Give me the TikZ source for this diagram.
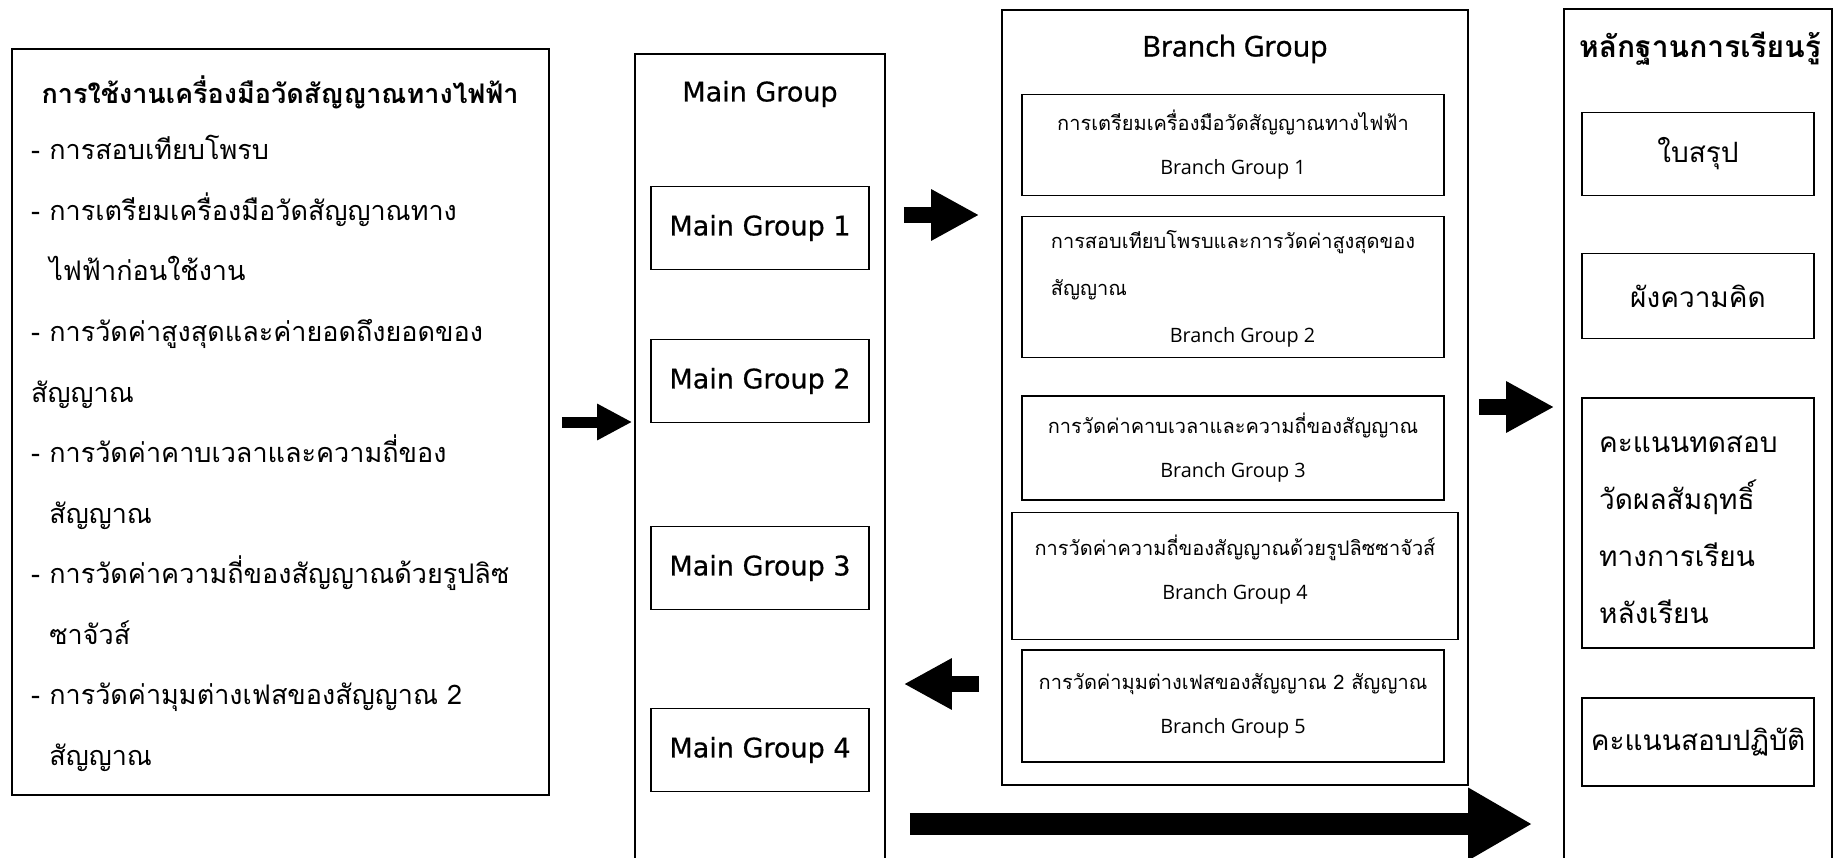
\documentclass[tikz,border=0pt]{standalone}
\usepackage{fontspec}
\usetikzlibrary{arrows.meta,positioning}
\newfontfamily\thaifont[Script=Thai]{Loma}
\newfontfamily\mgfont[FakeBold=0.6]{DejaVu Sans}
\newfontfamily\bgfont{Open Sans}
\newfontfamily\bgbold[FakeBold=1.2]{Open Sans}

\tikzset{
  box/.style={draw, line width=1.6pt, inner sep=0pt},
  mgbox/.style={box, minimum width=218pt, minimum height=83pt,
    font=\mgfont\fontsize{27}{30}\selectfont},
  bgbox/.style={box, align=center, minimum width=422pt,
    font=\thaifont\fontsize{20}{44}\selectfont},
  evbox/.style={box, minimum width=232pt, font=\thaifont\fontsize{28}{57}\selectfont},
  item/.style={anchor=base west, inner sep=0pt, font=\thaifont\fontsize{27}{32}\selectfont},
  fat/.style={line width=16pt, -{Triangle[length=48pt, width=48pt]}},
}
\newcommand\eng[1]{{\bgfont\fontsize{19.8}{44}\selectfont #1}}

\begin{document}
\begin{tikzpicture}[x=1pt, y=-1pt]
\useasboundingbox (0,0) rectangle (1833,858);

% topics of the unit
\node[box, minimum width=537pt, minimum height=746pt] (usage) at (280.5,422) {};
\node[font=\thaifont\bfseries\fontsize{27}{32}\selectfont] (usagetitle) at (280,92)
  {การใช้งานเครื่องมือวัดสัญญาณทางไฟฟ้า};
\foreach \txt [count=\i] in {- การสอบเทียบโพรบ,
    - การเตรียมเครื่องมือวัดสัญญาณทาง,
    \phantom{- }ไฟฟ้าก่อนใช้งาน,
    - การวัดค่าสูงสุดและค่ายอดถึงยอดของ,
    สัญญาณ,
    - การวัดค่าคาบเวลาและความถี่ของ,
    \phantom{- }สัญญาณ,
    - การวัดค่าความถี่ของสัญญาณด้วยรูปลิซ,
    \phantom{- }ซาจัวส์,
    - การวัดค่ามุมต่างเฟสของสัญญาณ 2,
    \phantom{- }สัญญาณ}
  \node[item] (item\i) at (31,160+60.5*\i-60.5) {\txt};

% main groups
\node[box, minimum width=250pt, minimum height=812pt, anchor=north] (main) at (760,53) {};
\node[font=\mgfont\fontsize{27}{30}\selectfont] (maintitle) at (760,94) {Main Group};
\node[mgbox] (mg1) at (760,228) {Main Group 1};
\node[mgbox] (mg2) at (760,381) {Main Group 2};
\node[mgbox] (mg3) at (760,568) {Main Group 3};
\node[mgbox] (mg4) at (760,750) {Main Group 4};

% branch groups
\node[box, minimum width=466pt, minimum height=775pt, anchor=north] (branch) at (1235,9) {};
\node[font=\bgbold\fontsize{28.5}{32}\selectfont] (branchtitle) at (1235,49) {Branch Group};
\node[bgbox, minimum height=101pt] (bg1) at (1233,145)
  {การเตรียมเครื่องมือวัดสัญญาณทางไฟฟ้า\\ \eng{Branch Group 1}};
\node[bgbox, minimum height=141pt, align=left] (bg2) at (1233,287)
  {\mbox{}\\[-22pt] การสอบเทียบโพรบและการวัดค่าสูงสุดของ\hspace*{28pt}\\[3pt] สัญญาณ\\[3pt]
   \hspace{119pt}\eng{Branch Group 2}};
\node[bgbox, minimum height=104pt] (bg3) at (1233,448)
  {การวัดค่าคาบเวลาและความถี่ของสัญญาณ\\ \eng{Branch Group 3}};
\node[bgbox, minimum width=446pt, minimum height=127pt] (bg4) at (1235,576)
  {การวัดค่าความถี่ของสัญญาณด้วยรูปลิซซาจัวส์\\ \eng{Branch Group 4}\\[-26pt]\mbox{}};
\node[bgbox, minimum height=112pt] (bg5) at (1233,706)
  {การวัดค่ามุมต่างเฟสของสัญญาณ 2 สัญญาณ\\ \eng{Branch Group 5}};

% evidence of learning
\node[box, minimum width=268pt, minimum height=862pt, anchor=north] (evid) at (1698,8) {};
\node[font=\thaifont\bfseries\fontsize{30}{32}\selectfont] (evidtitle) at (1700,49)
  {หลักฐานการเรียนรู้};
\node[evbox, minimum height=83pt] (ev1) at (1698,154) {ใบสรุป};
\node[evbox, minimum height=85pt] (ev2) at (1698,296) {ผังความคิด};
\node[evbox, minimum height=250pt] (ev3) at (1698,523) {};
\node[anchor=west, align=left, inner sep=0pt, font=\thaifont\fontsize{28}{57}\selectfont]
  (ev3text) at (1599,530) {คะแนนทดสอบ\\ วัดผลสัมฤทธิ์\\ ทางการเรียน\\ หลังเรียน};
\node[evbox, minimum height=88pt] (ev4) at (1698,742) {คะแนนสอบปฏิบัติ};

% arrows
\coordinate (lv1) at (0,215);
\coordinate (lv2) at (0,684);
\coordinate (lv3) at (0,407);
\coordinate (lv4) at (0,824);
\draw[line width=11pt, -{Triangle[length=35pt, width=34pt]}, shorten <=12pt, shorten >=2pt]
  (usage.east) -- (usage.east -| main.west);
\draw[fat, shorten <=18pt, shorten >=22pt] (main.east |- lv1) -- (branch.west |- lv1);
\draw[fat, shorten <=22pt, shorten >=18pt] (branch.west |- lv2) -- (main.east |- lv2);
\draw[fat, shorten <=10pt, shorten >=9pt] (branch.east |- lv3) -- (evid.west |- lv3);
\draw[line width=22pt, -{Triangle[length=64pt, width=68pt]}, shorten <=24pt, shorten >=31pt]
  (main.east |- lv4) -- (evid.west |- lv4);
\end{tikzpicture}
\end{document}
